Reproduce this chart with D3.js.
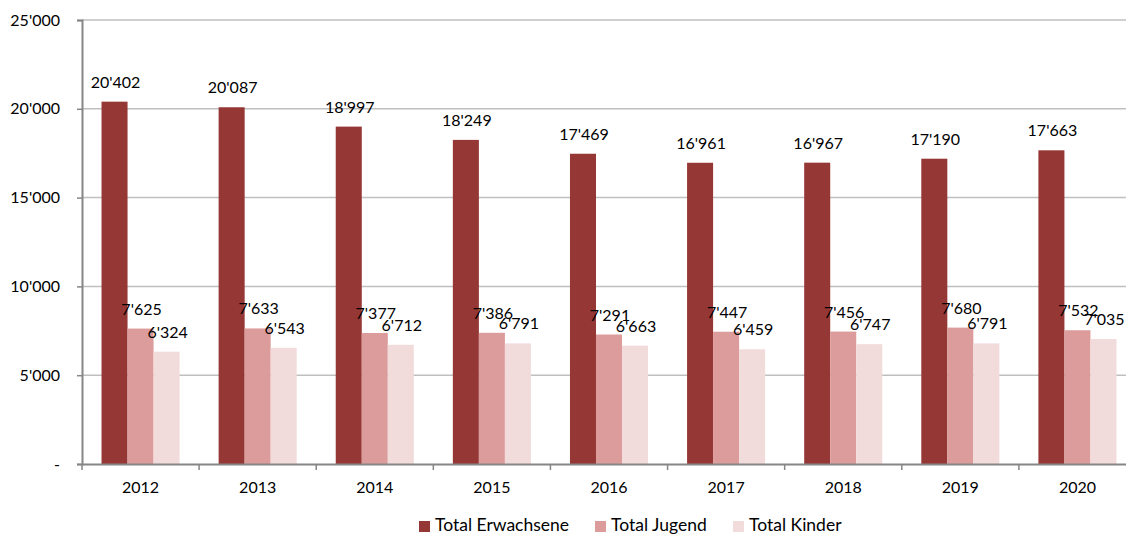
<!DOCTYPE html>
<html><head><meta charset="utf-8">
<script src="https://cdn.jsdelivr.net/npm/d3@7"></script>
<style>body{margin:0;background:#fff}svg{display:block;font-family:Lato,"Open Sans",sans-serif}</style>
</head><body><svg id="c" width="1126" height="535"></svg>
<script>
const years = ["2012","2013","2014","2015","2016","2017","2018","2019","2020"];
const seriesNames = ["Total Erwachsene","Total Jugend","Total Kinder"];
const erwachsene = [20402,20087,18997,18249,17469,16961,16967,17190,17663];
const jugend = [7625,7633,7377,7386,7291,7447,7456,7680,7532];
const kinder = [6324,6543,6712,6791,6663,6459,6747,6791,7035];
const yTicks = [0,5000,10000,15000,20000,25000];
const colors = ["#953735","#dc9c9b","#f2dcdb"];

(function(){
const values = [erwachsene, jugend, kinder];
const svg = d3.select("#c");
const pL = 82, pR = 1136, pT = 20, pB = 464;
const loc = d3.formatLocale({decimal:".", thousands:"'", grouping:[3], currency:["",""]});
const fmt = loc.format(",d");

const x0 = d3.scaleBand().domain(years).range([pL, pR]).padding(0);
const bw = x0.bandwidth();
const x1 = d3.scaleBand().domain(seriesNames).range([bw/6, bw*5/6]).padding(0);
const y = d3.scaleLinear().domain([0,25000]).range([pB, pT]);

svg.append("g").selectAll("line").data(yTicks.filter(d=>d>0)).join("line")
  .attr("x1", pL).attr("x2", 1126).attr("y1", d=>y(d)).attr("y2", d=>y(d))
  .attr("stroke", "#bfbfbf").attr("stroke-width", 1.5);

const g = svg.append("g");
years.forEach((yr, i) => {
  seriesNames.forEach((s, j) => {
    const v = values[j][i];
    g.append("rect")
      .attr("x", x0(yr) + x1(s)).attr("width", x1.bandwidth())
      .attr("y", y(v)).attr("height", pB - y(v))
      .attr("fill", colors[j]);
  });
});

const yAxis = d3.axisLeft(y).tickValues(yTicks).tickSize(5).tickPadding(17)
  .tickFormat(d => d === 0 ? "-" : fmt(d));
const ya = svg.append("g").attr("transform", `translate(${pL},0)`).call(yAxis);
ya.select(".domain").attr("stroke", "#868686").attr("stroke-width", 2);
ya.selectAll(".tick line").attr("stroke", "#868686").attr("stroke-width", 1.5);
ya.selectAll(".tick text").attr("font-size", 16).attr("fill", "#000").attr("font-family", "Lato");

const xa = svg.append("g").attr("transform", `translate(0,${pB})`)
  .call(d3.axisBottom(x0).tickSize(0).tickPadding(18));
xa.select(".domain").attr("stroke", "#868686").attr("stroke-width", 2);
xa.selectAll(".tick text").attr("font-size", 16).attr("fill", "#000").attr("font-family", "Lato");
svg.append("g").selectAll("line").data(d3.range(years.length + 1)).join("line")
  .attr("x1", i => pL + i*bw).attr("x2", i => pL + i*bw)
  .attr("y1", pB).attr("y2", pB + 6)
  .attr("stroke", "#868686").attr("stroke-width", 1.5);

years.forEach((yr, i) => {
  seriesNames.forEach((s, j) => {
    const v = values[j][i];
    svg.append("text")
      .attr("x", x0(yr) + x1(s) + x1.bandwidth()/2 + 1)
      .attr("y", y(v) - 14)
      .attr("text-anchor", "middle").attr("font-size", 16).attr("fill", "#000")
      .text(fmt(v));
  });
});

const legX = [419, 595, 733];
const leg = svg.append("g");
seriesNames.forEach((s, j) => {
  leg.append("rect").attr("x", legX[j]).attr("y", 521).attr("width", 11).attr("height", 11).attr("fill", colors[j]);
  leg.append("text").attr("x", legX[j] + 16).attr("y", 531).attr("font-size", 17.5).attr("fill", "#000").text(s);
});
})();
</script></body></html>
